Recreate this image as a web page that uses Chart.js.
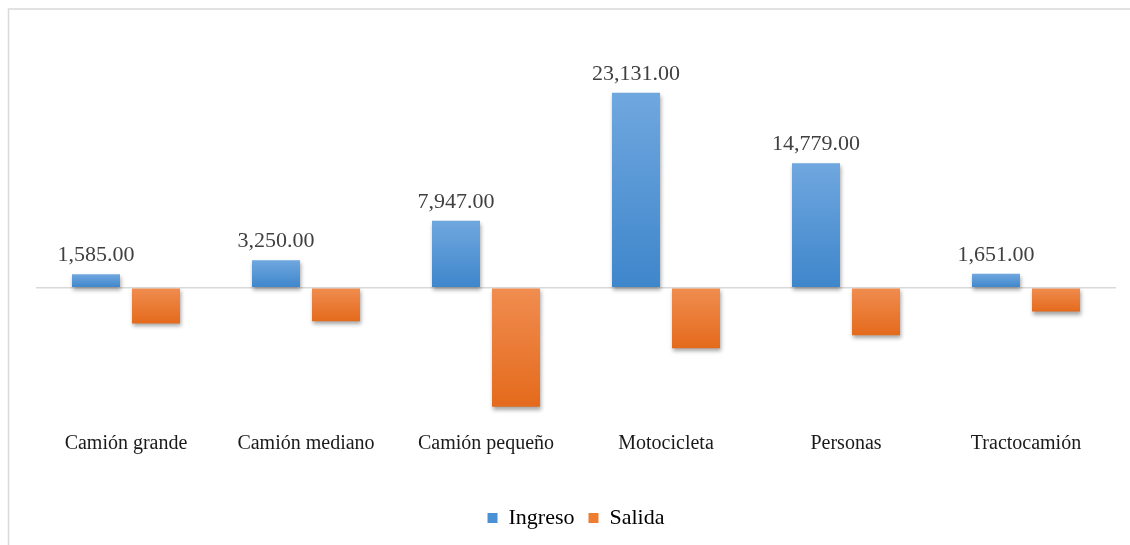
<!DOCTYPE html>
<html>
<head>
<meta charset="utf-8">
<script src="https://cdn.jsdelivr.net/npm/chart.js@4"></script>
<style>
  html, body { margin: 0; padding: 0; background: #fff; }
  #wrap { width: 1130px; height: 545px; position: relative; }
</style>
</head>
<body>
<div id="wrap"><canvas id="chart" width="1130" height="545"></canvas></div>
<script>
// Datos por tipo de vehículo
const categorias = ["Camión grande", "Camión mediano", "Camión pequeño", "Motocicleta", "Personas", "Tractocamión"];
const ingreso = [1585, 3250, 7947, 23131, 14779, 1651];
const salida = [-4250, -4000, -14150, -7200, -5650, -2830];

const serif = "'Liberation Serif', 'Times New Roman', serif";

// degradado vertical para cada barra, desde el extremo hasta la línea cero
function gradiente(top, bottom) {
  return function (context) {
    const chart = context.chart;
    if (!chart.chartArea || context.type !== "data") return top;
    const y = chart.scales.y;
    const v = context.raw;
    const g = chart.ctx.createLinearGradient(0, y.getPixelForValue(Math.max(v, 0)), 0, y.getPixelForValue(Math.min(v, 0)));
    g.addColorStop(0, top);
    g.addColorStop(1, bottom);
    return g;
  };
}

// marco gris del gráfico
const marco = {
  id: "marco",
  beforeDraw(chart) {
    const ctx = chart.ctx;
    ctx.save();
    ctx.strokeStyle = "#d9d9d9";
    ctx.lineWidth = 1.5;
    ctx.beginPath();
    ctx.moveTo(8.5, chart.height);
    ctx.lineTo(8.5, 9);
    ctx.lineTo(chart.width, 9);
    ctx.stroke();
    ctx.restore();
  },
};

// sombra suave bajo las barras
const sombra = {
  id: "sombra",
  beforeDatasetsDraw(chart) {
    const ctx = chart.ctx;
    ctx.save();
    ctx.shadowColor = "rgba(0,0,0,0.35)";
    ctx.shadowBlur = 4;
    ctx.shadowOffsetX = 1;
    ctx.shadowOffsetY = 3;
  },
  afterDatasetsDraw(chart) {
    chart.ctx.restore();
  },
};

// etiquetas de valor sobre las barras de Ingreso
const etiquetas = {
  id: "etiquetas",
  afterDatasetsDraw(chart) {
    const ctx = chart.ctx;
    const meta = chart.getDatasetMeta(0);
    ctx.save();
    ctx.font = "22px " + serif;
    ctx.fillStyle = "#404040";
    ctx.textAlign = "center";
    ctx.textBaseline = "bottom";
    meta.data.forEach((bar, i) => {
      const text = ingreso[i].toLocaleString("en-US", { minimumFractionDigits: 2, maximumFractionDigits: 2 });
      ctx.fillText(text, bar.x, bar.y - 8);
    });
    ctx.restore();
  },
};

new Chart(document.getElementById("chart"), {
  type: "bar",
  data: {
    labels: categorias,
    datasets: [
      {
        label: "Ingreso",
        data: ingreso,
        backgroundColor: gradiente("#70a7df", "#3e86cb"),
        categoryPercentage: 0.667,
        barPercentage: 0.8,
      },
      {
        label: "Salida",
        data: salida,
        backgroundColor: gradiente("#f08d50", "#e46a1c"),
        categoryPercentage: 0.667,
        barPercentage: 0.8,
      },
    ],
  },
  options: {
    responsive: false,
    animation: false,
    layout: {
      padding: { left: 36, right: 14, top: 35, bottom: 6 },
    },
    plugins: {
      legend: {
        position: "bottom",
        labels: {
          font: { family: serif, size: 22 },
          color: "#595959",
          boxWidth: 10,
          boxHeight: 10,
          padding: 14,
          generateLabels(chart) {
            return [
              { text: "Ingreso", fillStyle: "#4a90d4", strokeStyle: "#4a90d4", lineWidth: 0, datasetIndex: 0 },
              { text: "Salida", fillStyle: "#ed7d31", strokeStyle: "#ed7d31", lineWidth: 0, datasetIndex: 1 },
            ];
          },
        },
      },
      tooltip: { enabled: false },
    },
    scales: {
      x: {
        grid: { display: false },
        border: { display: false },
        ticks: {
          font: { family: serif, size: 20 },
          color: "#1a1a1a",
          padding: 10,
          maxRotation: 0,
        },
        afterFit(scale) {
          scale.height = 79;
        },
      },
      y: {
        min: -15000,
        max: 30000,
        ticks: { display: false, stepSize: 5000 },
        border: { display: false },
        grid: {
          drawTicks: false,
          lineWidth: 1.5,
          color: (ctx) => (ctx.tick && ctx.tick.value === 0 ? "#d9d9d9" : "rgba(0,0,0,0)"),
        },
        afterFit(scale) {
          scale.width = 0;
        },
      },
    },
  },
  plugins: [marco, sombra, etiquetas],
});
</script>
</body>
</html>
